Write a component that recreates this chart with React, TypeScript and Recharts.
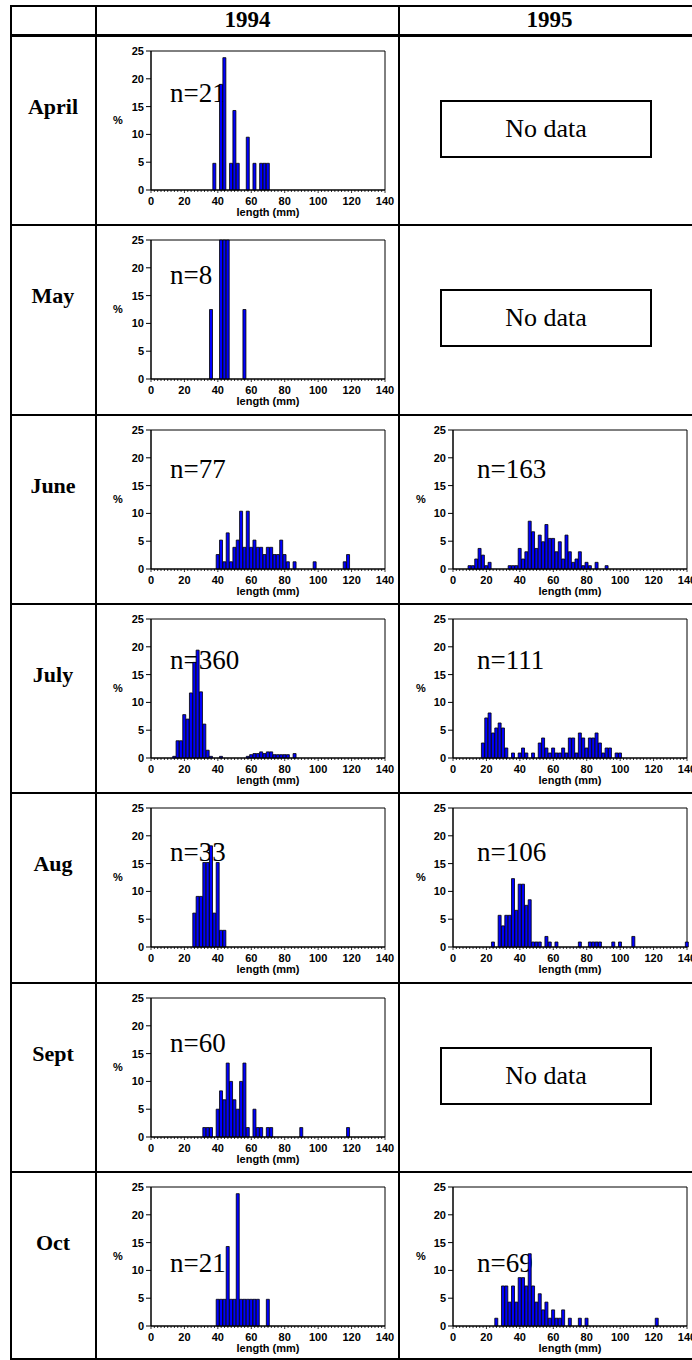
import React from "react";
import { BarChart, Bar, XAxis, YAxis, ReferenceArea } from "recharts";

// 2 mm length classes, labelled by their centre
const LENGTH_BINS = [
  0, 2, 4, 6, 8, 10, 12, 14, 16, 18, 20, 22, 24, 26, 28, 30, 32, 34, 36, 38,
  40, 42, 44, 46, 48, 50, 52, 54, 56, 58, 60, 62, 64, 66, 68, 70, 72, 74, 76, 78,
  80, 82, 84, 86, 88, 90, 92, 94, 96, 98, 100, 102, 104, 106, 108, 110, 112, 114,
  116, 118, 120, 122, 124, 126, 128, 130, 132, 134, 136, 138, 140,
];
const LENGTH_TICKS = [0, 20, 40, 60, 80, 100, 120, 140];
const PCT_TICKS = [0, 5, 10, 15, 20, 25];
const YEARS = ["1994", "1995"];
const MONTHS = ["April", "May", "June", "July", "Aug", "Sept", "Oct"];

// [length class (mm), % of sample]; empty classes left out
const apr94 = [[38, 4.8], [42, 19.0], [44, 23.8], [48, 4.8], [50, 14.3], [52, 4.8], [58, 9.5], [62, 4.8], [66, 4.8], [68, 4.8], [70, 4.8]];
const may94 = [[36, 12.5], [42, 25], [44, 25], [46, 25], [56, 12.5]];
const jun94 = [[40, 2.6], [42, 5.2], [44, 1.3], [46, 6.5], [48, 1.3], [50, 3.9], [52, 5.2], [54, 10.4], [56, 3.9], [58, 10.4], [60, 3.9], [62, 5.2], [64, 3.9], [66, 3.9], [68, 2.6], [70, 3.9], [72, 3.9], [74, 2.6], [76, 2.6], [78, 5.2], [80, 2.6], [82, 1.3], [86, 1.3], [98, 1.3], [116, 1.3], [118, 2.6]];
const jun95 = [[10, 0.6], [12, 0.6], [14, 1.8], [16, 3.7], [18, 2.5], [20, 0.6], [22, 1.2], [34, 0.6], [36, 0.6], [38, 0.6], [40, 3.7], [42, 1.8], [44, 3.1], [46, 8.6], [48, 6.7], [50, 3.7], [52, 6.1], [54, 4.9], [56, 8.0], [58, 5.5], [60, 5.5], [62, 3.1], [64, 4.9], [66, 1.8], [68, 6.1], [70, 3.1], [72, 1.2], [74, 1.8], [76, 3.1], [78, 0.6], [80, 1.2], [82, 0.6], [86, 1.2], [92, 0.6]];
const jul94 = [[14, 0.3], [16, 3.1], [18, 3.1], [20, 7.8], [22, 7.0], [24, 11.7], [26, 17.2], [28, 19.4], [30, 11.9], [32, 6.1], [34, 1.4], [36, 0.3], [42, 0.3], [58, 0.3], [60, 0.6], [62, 0.8], [64, 0.8], [66, 1.1], [68, 0.8], [70, 1.1], [72, 1.1], [74, 0.6], [76, 0.6], [78, 0.6], [80, 0.6], [82, 0.6], [86, 0.8]];
const jul95 = [[18, 2.7], [20, 7.2], [22, 8.1], [24, 4.5], [26, 5.4], [28, 6.3], [30, 5.4], [32, 1.8], [36, 0.9], [40, 0.9], [42, 1.8], [44, 0.9], [48, 0.9], [52, 2.7], [54, 3.6], [56, 1.8], [58, 0.9], [60, 1.8], [62, 0.9], [64, 0.9], [66, 1.8], [68, 0.9], [70, 3.6], [72, 3.6], [74, 0.9], [76, 4.5], [78, 3.6], [80, 1.8], [82, 3.6], [84, 3.6], [86, 4.5], [88, 2.7], [90, 0.9], [92, 1.8], [94, 1.8], [98, 0.9], [100, 0.9]];
const aug94 = [[26, 6.1], [28, 9.1], [30, 9.1], [32, 15.2], [34, 15.2], [36, 18.2], [38, 6.1], [40, 15.2], [42, 3.0], [44, 3.0]];
const aug95 = [[24, 0.9], [28, 5.7], [30, 3.8], [32, 5.7], [34, 5.7], [36, 12.3], [38, 6.6], [40, 11.3], [42, 11.3], [44, 7.5], [46, 8.5], [48, 0.9], [50, 0.9], [52, 0.9], [56, 1.9], [58, 0.9], [62, 0.9], [76, 0.9], [82, 0.9], [84, 0.9], [86, 0.9], [88, 0.9], [96, 0.9], [100, 0.9], [108, 1.9], [140, 0.9]];
const sep94 = [[32, 1.7], [34, 1.7], [36, 1.7], [40, 5.0], [42, 8.3], [44, 6.7], [46, 13.3], [48, 10.0], [50, 6.7], [52, 5.0], [54, 10.0], [56, 13.3], [58, 1.7], [62, 5.0], [64, 1.7], [66, 1.7], [70, 1.7], [72, 1.7], [90, 1.7], [118, 1.7]];
const oct94 = [[40, 4.8], [42, 4.8], [44, 4.8], [46, 14.3], [48, 4.8], [50, 4.8], [52, 23.8], [54, 4.8], [56, 4.8], [58, 4.8], [60, 4.8], [62, 4.8], [64, 4.8], [70, 4.8]];
const oct95 = [[26, 1.4], [30, 7.2], [32, 7.2], [34, 4.3], [36, 7.2], [38, 4.3], [40, 8.7], [42, 8.7], [44, 7.2], [46, 13.0], [48, 7.2], [50, 4.3], [52, 5.8], [54, 2.9], [56, 4.3], [58, 1.4], [60, 2.9], [62, 1.4], [64, 1.4], [66, 2.9], [70, 1.4], [76, 1.4], [80, 1.4], [122, 1.4]];

const SERIES_1994 = [apr94, may94, jun94, jul94, aug94, sep94, oct94];
const SERIES_1995 = [null, null, jun95, jul95, aug95, null, oct95];
const N_1994 = [21, 8, 77, 360, 33, 60, 21];
const N_1995 = [null, null, 163, 111, 106, null, 69];

// layout
const ROW_TOP = [36, 225, 415, 604, 793, 983, 1172];
const ROW_H = 189;
const COL_X = [10, 96, 399];
const N_DROP = [52, 45, 49, 51, 54, 55, 86];
const SANS = "'Liberation Sans', Arial, sans-serif";
const SERIF = "'Liberation Serif', 'Times New Roman', serif";

const LengthTick = (props: any) => {
  const { x, y, payload } = props;
  const major = LENGTH_TICKS.includes(payload.value);
  return (
    <g>
      <line x1={x} x2={x} y1={y} y2={y + (major ? 3 : 2)} stroke="#000" strokeWidth={0.8} />
      {major && (
        <text x={x} y={y + 14.5} textAnchor="middle" fontFamily={SANS} fontWeight="bold" fontSize={11} fill="#000">
          {payload.value}
        </text>
      )}
    </g>
  );
};

function Histogram({ bars, n, left, top, width, yAxisW, dx, drop }: any) {
  const data = LENGTH_BINS.map((len) => {
    const hit = bars.find((b: number[]) => b[0] === len);
    return { len, pct: hit ? hit[1] : 0 };
  });
  const plotW = 234;
  return (
    <>
      <div
        style={{
          position: "absolute",
          left: left + yAxisW + dx,
          top: top + 15 + drop - 23,
          fontFamily: SERIF,
          fontSize: 27,
          lineHeight: "27px",
          whiteSpace: "nowrap",
        }}
      >
        n={n}
      </div>
      <div style={{ position: "absolute", left, top }}>
        <BarChart
          width={width}
          height={ROW_H}
          data={data}
          margin={{ top: 15, right: width - yAxisW - plotW, bottom: 0, left: 0 }}
          barCategoryGap={0}
          barGap={0}
        >
          <XAxis
            type="number"
            dataKey="len"
            domain={[0, 140]}
            ticks={LENGTH_BINS}
            interval={0}
            tick={LengthTick}
            tickSize={0}
            tickMargin={0}
            tickLine={false}
            height={35}
            axisLine={{ stroke: "#000" }}
            label={{
              value: "length (mm)",
              position: "insideBottom",
              offset: 9,
              style: { fontFamily: SANS, fontWeight: "bold", fontSize: 11, fill: "#000" },
            }}
          />
          <YAxis
            type="number"
            domain={[0, 25]}
            ticks={PCT_TICKS}
            interval={0}
            width={yAxisW}
            tickSize={5}
            tickMargin={2}
            axisLine={{ stroke: "#000" }}
            tickLine={{ stroke: "#000" }}
            tick={{ fontFamily: SANS, fontWeight: "bold", fontSize: 11, fill: "#000" }}
            label={{
              value: "%",
              position: "insideLeft",
              offset: 17,
              style: { fontFamily: SANS, fontWeight: "bold", fontSize: 11, fill: "#000" },
            }}
          />
          <ReferenceArea x1={0} x2={140} y1={0} y2={25} fill="none" stroke="#000" strokeWidth={1} ifOverflow="visible" />
          <Bar dataKey="pct" fill="#0000ff" stroke="#000" strokeWidth={0.8} isAnimationActive={false} />
        </BarChart>
      </div>
    </>
  );
}

const NoData = ({ top }: { top: number }) => (
  <div
    style={{
      position: "absolute",
      left: 440,
      top: top + 64,
      width: 212,
      height: 58,
      border: "2px solid #000",
      boxSizing: "border-box",
      display: "flex",
      alignItems: "center",
      justifyContent: "center",
      fontFamily: SERIF,
      fontSize: 26,
    }}
  >
    No data
  </div>
);

const hLine = (y: number, h: number, key: string) => (
  <div key={key} style={{ position: "absolute", left: COL_X[0], top: y, width: 700, height: h, background: "#000" }} />
);
const vLine = (x: number, w: number, key: string) => (
  <div key={key} style={{ position: "absolute", left: x, top: 6, width: w, height: 1360, background: "#000" }} />
);

export default function App() {
  return (
    <div style={{ position: "absolute", left: 0, top: 0, width: 692, height: 1360, overflow: "hidden", background: "#fff" }}>
      {YEARS.map((yr, i) => (
        <div
          key={yr}
          style={{
            position: "absolute",
            left: COL_X[i + 1],
            width: i === 0 ? COL_X[2] - COL_X[1] : 700 - COL_X[2],
            top: 7,
            textAlign: "center",
            fontFamily: SERIF,
            fontWeight: "bold",
            fontSize: 23,
            lineHeight: "26px",
          }}
        >
          {yr}
        </div>
      ))}
      {MONTHS.map((m, r) => (
        <React.Fragment key={m}>
          <div
            style={{
              position: "absolute",
              left: COL_X[0],
              width: COL_X[1] - COL_X[0],
              top: ROW_TOP[r] + 58,
              textAlign: "center",
              fontFamily: SERIF,
              fontWeight: "bold",
              fontSize: 22,
              lineHeight: "26px",
            }}
          >
            {m}
          </div>
          <Histogram bars={SERIES_1994[r]} n={N_1994[r]} left={96} top={ROW_TOP[r]} width={300} yAxisW={55} dx={19} drop={N_DROP[r]} />
          {SERIES_1995[r] ? (
            <Histogram bars={SERIES_1995[r]} n={N_1995[r]} left={399} top={ROW_TOP[r]} width={320} yAxisW={54} dx={24} drop={N_DROP[r]} />
          ) : (
            <NoData top={ROW_TOP[r]} />
          )}
        </React.Fragment>
      ))}
      {hLine(5, 2, "top")}
      {hLine(34, 3, "head")}
      {ROW_TOP.slice(1).map((y, i) => hLine(y - 1, 2, "r" + i))}
      {hLine(1358, 2, "bottom")}
      {vLine(COL_X[0], 2, "v0")}
      {vLine(COL_X[1] - 1, 2, "v1")}
      {vLine(COL_X[2] - 1, 2, "v2")}
    </div>
  );
}
